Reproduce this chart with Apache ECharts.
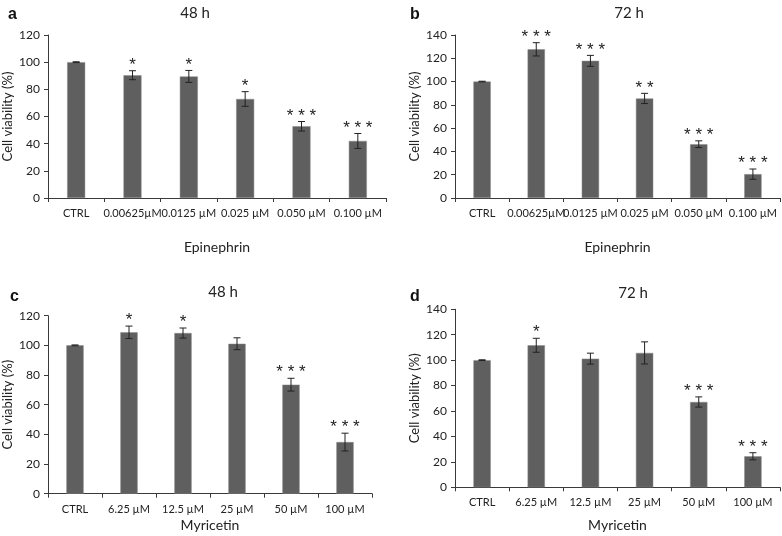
<!DOCTYPE html>
<html>
<head>
<meta charset="utf-8">
<script src="https://cdn.jsdelivr.net/npm/echarts@6/dist/echarts.min.js"></script>
<style>html,body{margin:0;padding:0;background:#fff}#c{width:782px;height:536px}</style>
</head>
<body>
<div id="c"></div>
<script>
// ---- data ----
const epiCategories = ['CTRL', '0.00625µM', '0.0125 µM', '0.025 µM', '0.050 µM', '0.100 µM'];
const myrCategories = ['CTRL', '6.25 µM', '12.5 µM', '25 µM', '50 µM', '100 µM'];

const aValues = [100, 90.4, 89.5, 72.9, 52.8, 42.0];
const aErrors = [0.3, 3.3, 4.4, 5.4, 3.5, 5.5];
const aSig = ['', '*', '*', '*', '***', '***'];

const bValues = [100, 127.7, 117.8, 85.5, 46.2, 20.5];
const bErrors = [0.3, 5.7, 4.7, 4.4, 2.9, 4.4];
const bSig = ['', '***', '***', '**', '***', '***'];

const cValues = [100, 108.8, 108.3, 101.1, 73.5, 34.8];
const cErrors = [0.3, 4.2, 3.4, 4.0, 4.3, 6.0];
const cSig = ['', '*', '*', '', '***', '***'];

const dValues = [100, 111.7, 101.2, 105.7, 67.1, 24.4];
const dErrors = [0.3, 5.5, 4.3, 8.7, 4.0, 2.8];
const dSig = ['', '*', '', '', '***', '***'];

const yTicksA = [0, 20, 40, 60, 80, 100, 120];
const yTicksB = [0, 20, 40, 60, 80, 100, 120, 140];

// ---- style ----
const FONT = 'Lato, "Open Sans", sans-serif';
const BAR = '#5f5f5f';
const AXIS = '#3a3a3a';
const TXT = '#222';

const panels = [
  {cats: epiCategories, vals: aValues, errs: aErrors, sig: aSig, ticks: yTicksA, xname: 'Epinephrin',
   grid: {left: 48, right: 396, top: 35, bottom: 338}, xNameGap: 42, letter: 'a', title: '48 h', tx: 190, ty: 1, lx: 3, ly: 2},
  {cats: epiCategories, vals: bValues, errs: bErrors, sig: bSig, ticks: yTicksB, xname: 'Epinephrin',
   grid: {left: 455, right: 2, top: 35, bottom: 338}, xNameGap: 42, letter: 'b', title: '72 h', tx: 624, ty: 1, lx: 405, ly: 2},
  {cats: myrCategories, vals: cValues, errs: cErrors, sig: cSig, ticks: yTicksA, xname: 'Myricetin',
   grid: {left: 48, right: 410, top: 315.7, bottom: 42.3}, xNameGap: 25, letter: 'c', title: '48 h', tx: 218, ty: 280, lx: 5, ly: 284},
  {cats: myrCategories, vals: dValues, errs: dErrors, sig: dSig, ticks: yTicksB, xname: 'Myricetin',
   grid: {left: 455, right: 2, top: 309.3, bottom: 48.7}, xNameGap: 31, letter: 'd', title: '72 h', tx: 628, ty: 281, lx: 405, ly: 284}
];

const grids = [], xAxes = [], yAxes = [], series = [], titles = [];
panels.forEach((p, k) => {
  grids.push(Object.assign({containLabel: false}, p.grid));
  xAxes.push({
    type: 'category', gridIndex: k, data: p.cats,
    name: p.xname, nameLocation: 'middle', nameGap: p.xNameGap,
    nameTextStyle: {fontFamily: FONT, fontSize: 14, color: TXT},
    axisLine: {lineStyle: {color: AXIS, width: 1}},
    axisTick: {show: true, length: 4, lineStyle: {color: AXIS}},
    axisLabel: {fontFamily: FONT, fontSize: 11, color: TXT, margin: 10, interval: 0},
    splitLine: {show: false}
  });
  yAxes.push({
    type: 'value', gridIndex: k, min: 0, max: p.ticks[p.ticks.length - 1], interval: 20,
    name: 'Cell viability (%)', nameLocation: 'middle', nameGap: 34,
    nameTextStyle: {fontFamily: FONT, fontSize: 13, color: TXT},
    axisLine: {show: true, lineStyle: {color: AXIS, width: 1}},
    axisTick: {show: true, length: 4, lineStyle: {color: AXIS}},
    axisLabel: {fontFamily: FONT, fontSize: 12, color: TXT, margin: 8},
    splitLine: {show: false}
  });
  series.push({
    type: 'bar', xAxisIndex: k, yAxisIndex: k, data: p.vals, barWidth: '32%',
    itemStyle: {color: BAR, borderColor: '#8a8a8a', borderWidth: 0.5}, animation: false
  });
  const sig = p.sig;
  series.push({
    type: 'custom', xAxisIndex: k, yAxisIndex: k, animation: false, z: 5,
    data: p.vals.map((v, i) => [i, v, p.errs[i]]),
    renderItem: function (params, api) {
      const i = api.value(0), v = api.value(1), e = api.value(2);
      const top = api.coord([i, v + e]);
      const bot = api.coord([i, v - e]);
      const cw = 3.5;
      const children = [
        {type: 'line', shape: {x1: top[0], y1: top[1], x2: bot[0], y2: bot[1]}, style: {stroke: '#222', lineWidth: 1}},
        {type: 'line', shape: {x1: top[0] - cw, y1: top[1], x2: top[0] + cw, y2: top[1]}, style: {stroke: '#222', lineWidth: 1}},
        {type: 'line', shape: {x1: bot[0] - cw, y1: bot[1], x2: bot[0] + cw, y2: bot[1]}, style: {stroke: '#222', lineWidth: 1}}
      ];
      const s = sig[i];
      if (s) {
        children.push({type: 'text', style: {
          text: s.split('').join(' '), x: top[0], y: top[1] + 3,
          align: 'center', verticalAlign: 'bottom',
          font: '17px "Liberation Sans", Arial, sans-serif', fill: '#222'
        }});
      }
      return {type: 'group', children: children};
    }
  });
  titles.push({text: p.title, left: p.tx, top: p.ty, textAlign: 'center',
    textStyle: {fontFamily: FONT, fontSize: 15, fontWeight: 'normal', color: TXT}});
  titles.push({text: p.letter, left: p.lx, top: p.ly,
    textStyle: {fontFamily: 'Liberation Sans, Arial, sans-serif', fontSize: 16, fontWeight: 'bold', color: '#111'}});
});

const chart = echarts.init(document.getElementById('c'), null, {renderer: 'canvas'});
chart.setOption({
  backgroundColor: '#fff', animation: false,
  title: titles, grid: grids, xAxis: xAxes, yAxis: yAxes, series: series
});
</script>
</body>
</html>
